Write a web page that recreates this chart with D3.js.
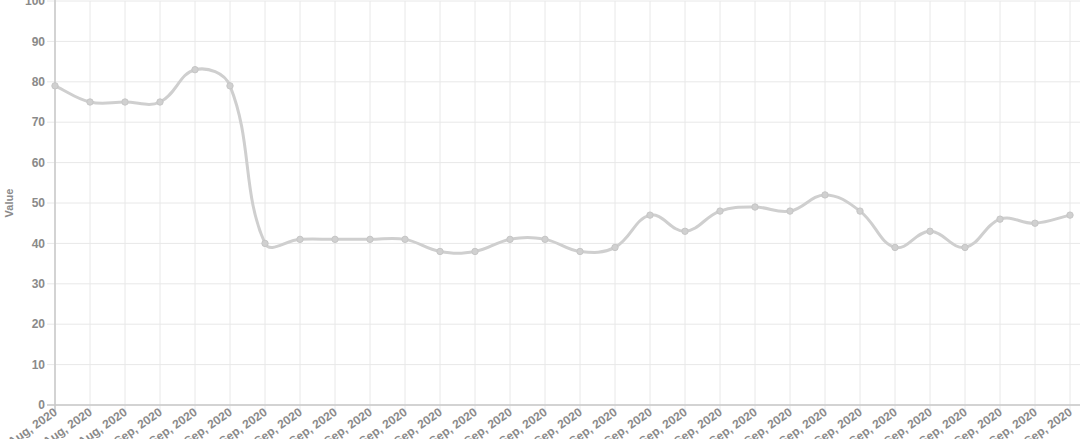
<!DOCTYPE html>
<html><head><meta charset="utf-8">
<script src="https://cdn.jsdelivr.net/npm/d3@7"></script>
<style>body{margin:0;background:#fff;}svg{display:block;}</style>
</head><body>
<svg id="c" width="1080" height="439"></svg>
<script>
const categories = ["29 Aug, 2020","30 Aug, 2020","31 Aug, 2020","01 Sep, 2020","02 Sep, 2020","03 Sep, 2020","04 Sep, 2020","05 Sep, 2020","06 Sep, 2020","07 Sep, 2020","08 Sep, 2020","09 Sep, 2020","10 Sep, 2020","11 Sep, 2020","12 Sep, 2020","13 Sep, 2020","14 Sep, 2020","15 Sep, 2020","16 Sep, 2020","17 Sep, 2020","18 Sep, 2020","19 Sep, 2020","20 Sep, 2020","21 Sep, 2020","22 Sep, 2020","23 Sep, 2020","24 Sep, 2020","25 Sep, 2020","26 Sep, 2020","27 Sep, 2020"];
const values = [79,75,75,75,83,79,40,41,41,41,41,38,38,41,41,38,39,47,43,48,49,48,52,48,39,43,39,46,45,47];
const yTicks = [0,10,20,30,40,50,60,70,80,90,100];
const yTitle = "Value";

const svg = d3.select("#c");
const L = 55, R = 1070, T = 1, B = 405;
const x = d3.scalePoint().domain(categories).range([L, R]);
const y = d3.scaleLinear().domain([0, 100]).range([B, T]);
const font = "Arial, 'Liberation Sans', Helvetica, sans-serif";

// grid
const g = svg.append("g");
g.selectAll(".vg").data(categories).enter().append("line")
  .attr("x1", d => x(d)).attr("x2", d => x(d)).attr("y1", T).attr("y2", B + 6)
  .attr("stroke", "#e8e8e8").attr("stroke-width", 1);
g.selectAll(".hg").data(yTicks).enter().append("line")
  .attr("x1", L - 8).attr("x2", R + 10).attr("y1", d => y(d)).attr("y2", d => y(d))
  .attr("stroke", "#e8e8e8").attr("stroke-width", 1);
// axis lines
g.append("line").attr("x1", L).attr("x2", L).attr("y1", 0).attr("y2", B + 6).attr("stroke", "#c8c8c8").attr("stroke-width", 1.5);
g.append("line").attr("x1", L - 8).attr("x2", R + 10).attr("y1", B).attr("y2", B).attr("stroke", "#c8c8c8").attr("stroke-width", 1.5);

// y labels
g.selectAll(".yl").data(yTicks).enter().append("text")
  .attr("x", L - 10).attr("y", d => y(d)).attr("dy", "0.35em")
  .attr("text-anchor", "end").attr("font-family", font).attr("font-size", 12)
  .attr("font-weight", "bold").attr("fill", "#8a8a8a").text(d => d);
svg.append("text").attr("transform", `translate(13,${(T + B) / 2}) rotate(-90)`)
  .attr("text-anchor", "middle").attr("font-family", font).attr("font-size", 11)
  .attr("font-weight", "bold").attr("fill", "#8a8a8a").text(yTitle);

// x labels
g.selectAll(".xl").data(categories).enter().append("text")
  .attr("transform", d => `translate(${x(d) + 3},${B + 9}) rotate(-35)`)
  .attr("text-anchor", "end").attr("font-family", font).attr("font-size", 12)
  .attr("font-weight", "bold").attr("fill", "#8a8a8a").text(d => d);

// Chart.js style spline
const pts = values.map((v, i) => [x(categories[i]), y(v)]);
const tension = 0.4;
function cps(p0, p1, p2) {
  const d01 = Math.hypot(p1[0] - p0[0], p1[1] - p0[1]);
  const d12 = Math.hypot(p2[0] - p1[0], p2[1] - p1[1]);
  let s01 = d01 / (d01 + d12), s12 = d12 / (d01 + d12);
  if (isNaN(s01)) s01 = 0; if (isNaN(s12)) s12 = 0;
  const fa = tension * s01, fb = tension * s12;
  return {
    prev: [p1[0] - fa * (p2[0] - p0[0]), p1[1] - fa * (p2[1] - p0[1])],
    next: [p1[0] + fb * (p2[0] - p0[0]), p1[1] + fb * (p2[1] - p0[1])]
  };
}
const ctrl = pts.map((p, i) => cps(pts[Math.max(0, i - 1)], p, pts[Math.min(pts.length - 1, i + 1)]));
ctrl.forEach(c => { [c.prev, c.next].forEach(q => { q[0] = Math.max(L, Math.min(R, q[0])); q[1] = Math.max(T, Math.min(B, q[1])); }); });
let dpath = `M${pts[0][0]},${pts[0][1]}`;
for (let i = 1; i < pts.length; i++) {
  const a = ctrl[i - 1].next, b = ctrl[i].prev;
  dpath += `C${a[0]},${a[1]},${b[0]},${b[1]},${pts[i][0]},${pts[i][1]}`;
}
svg.append("path").attr("d", dpath).attr("fill", "none").attr("stroke", "#cfcfcf").attr("stroke-width", 3);
svg.selectAll(".pt").data(values).enter().append("circle")
  .attr("cx", (d, i) => x(categories[i])).attr("cy", d => y(d)).attr("r", 3.2)
  .attr("fill", "#d0d0d0").attr("stroke", "#c6c6c6").attr("stroke-width", 1);
</script>
</body></html>
